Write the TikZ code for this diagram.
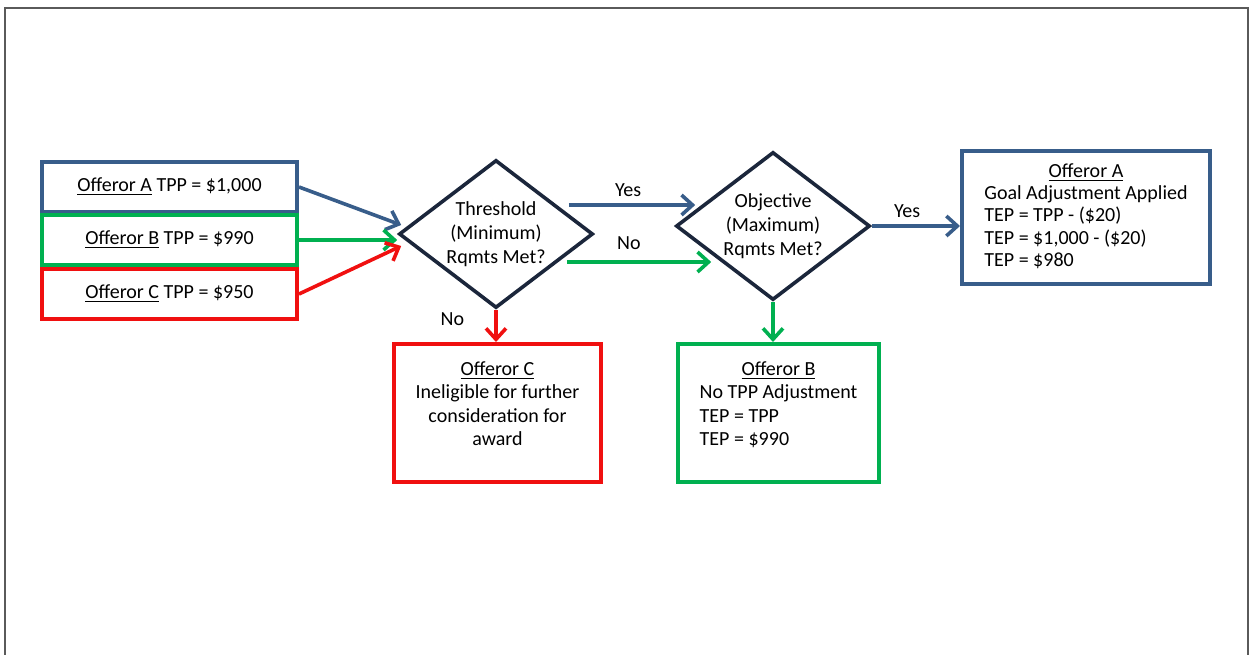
\documentclass[tikz,border=0pt]{standalone}
\usepackage{fontspec}
\setmainfont{Carlito}
\usepackage{tikz}
\usetikzlibrary{shapes.geometric,arrows.meta,calc,positioning}

\definecolor{offBlue}{RGB}{56,93,138}
\definecolor{offGreen}{RGB}{0,176,80}
\definecolor{offRed}{RGB}{240,16,16}
\definecolor{offNavy}{RGB}{27,38,59}
\definecolor{frameGray}{RGB}{90,90,90}

\begin{document}
\begin{tikzpicture}[x=0.5pt,y=-0.5pt]
  \tikzstyle{offerbox} = [draw,fill=white,line width=2pt,minimum width=127.5pt,minimum height=25pt,inner sep=0pt,font=\fontsize{10}{12}\selectfont]
  \tikzstyle{decision} = [draw=offNavy,line width=1.8pt,shape=diamond,aspect=1.3,minimum width=97pt,minimum height=74pt,inner sep=0pt,align=center,font=\fontsize{10}{12}\selectfont]
  \tikzstyle{resultbox} = [draw,line width=2pt,inner sep=0pt,font=\fontsize{10}{11.75}\selectfont]
  \tikzstyle{flow} = [line width=1.8pt,-{Straight Barb[length=5.5pt,width=10pt]}]
  \tikzstyle{lbl} = [text=black,font=\fontsize{10}{12}\selectfont,inner sep=1pt]
  %
  \useasboundingbox (0,0) rectangle (1253,654);
  \draw[frameGray,line width=0.75pt] (5,660) -- (5,8) -- (1248,8) -- (1248,660);
  % Offers.
  \node[offerbox,draw=offBlue] (offA) at (169.5,187) {\underline{Offeror A} TPP = \$1,000};
  \node[offerbox,draw=offGreen] (offB) at (169.5,240) {\underline{Offeror B} TPP = \$990};
  \node[offerbox,draw=offRed] (offC) at (169.5,294) {\underline{Offeror C} TPP = \$950};
  % Decisions.
  \node[decision] (thr) at (496,234) {Threshold\\(Minimum)\\Rqmts Met?};
  \node[decision] (obj) at (773,226) {Objective\\(Maximum)\\Rqmts Met?};
  % Results.
  \node[resultbox,draw=offBlue,minimum width=124pt,minimum height=66.5pt,font=\fontsize{10}{11.1}\selectfont] (resA) at (1086,217.5) {%
    \begin{tabular}{@{}l@{}}
      \multicolumn{1}{@{}c@{}}{\underline{Offeror A}}\\
      Goal Adjustment Applied\\
      TEP = TPP - (\$20)\\
      TEP = \$1,000 - (\$20)\\
      TEP = \$980
    \end{tabular}};
  \node[resultbox,draw=offRed,minimum width=103.5pt,minimum height=69pt] (resC) at (497.5,413) {%
    \begin{tabular}{@{}c@{}}
      \underline{Offeror C}\\
      Ineligible for further\\
      consideration for\\
      award\\[7pt]
    \end{tabular}};
  \node[resultbox,draw=offGreen,minimum width=100.5pt,minimum height=69pt] (resB) at (778.5,413) {%
    \begin{tabular}{@{}l@{}}
      \multicolumn{1}{@{}c@{}}{\underline{Offeror B}}\\
      No TPP Adjustment\\
      TEP = TPP\\
      TEP = \$990\\[7pt]
    \end{tabular}};
  % Connectors.
  \draw[flow,offBlue] (offA.east) -- ($(thr.west)+(4,-9)$);
  \draw[flow,offGreen] (offB.east) -- (offB.east -| thr.west);
  \draw[flow,offRed] (offC.east) -- ($(thr.west)+(4,12)$);
  \draw[flow,offBlue] ($(thr.east)+(-26,-29)$) -- node[lbl,pos=0.47,above=2.5pt] (yes1) {Yes} ($(obj.west)+(21,-21)$);
  \draw[flow,offGreen] ($(thr.east)+(-28,28)$) -- node[lbl,pos=0.43,above=4.5pt] (no1) {No} ($(obj.west)+(37,36)$);
  \draw[flow,offBlue] (obj.east) -- node[lbl,pos=0.4,above=2.5pt] (yes2) {Yes} (obj.east -| resA.west);
  \draw[flow,offRed] (thr.south) -- node[lbl,left=14pt,pos=0.3] (no2) {No} (thr.south |- resC.north);
  \draw[flow,offGreen] (obj.south) -- (obj.south |- resB.north);
\end{tikzpicture}
\end{document}
